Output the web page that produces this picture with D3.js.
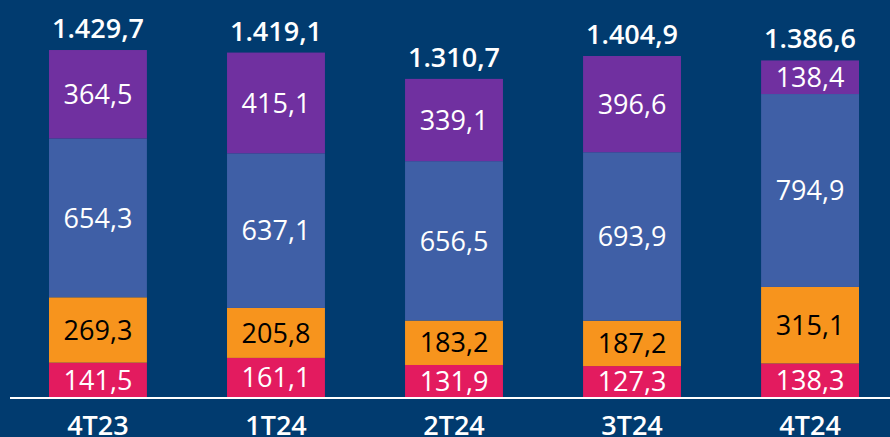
<!DOCTYPE html>
<html lang="pt">
<head>
<meta charset="utf-8">
<script src="https://d3js.org/d3.v7.min.js"></script>
<style>
  html, body { margin: 0; padding: 0; background: #013b6f; }
  svg { display: block; }
</style>
</head>
<body>
<script>
// categorias e séries (de baixo para cima)
var quarters = ["4T23", "1T24", "2T24", "3T24", "4T24"];
var pink   = [141.5, 161.1, 131.9, 127.3, 138.3];
var orange = [269.3, 205.8, 183.2, 187.2, 315.1];
var blue   = [654.3, 637.1, 656.5, 693.9, 794.9];
var purple = [364.5, 415.1, 339.1, 396.6, 138.4];
var totals = [1429.7, 1419.1, 1310.7, 1404.9, 1386.6];

var width = 890, height = 437;

var series = [
  { key: "pink",   values: pink,   fill: "#e31b5f", text: "#ffffff" },
  { key: "orange", values: orange, fill: "#f7941d", text: "#000000" },
  { key: "blue",   values: blue,   fill: "#3f5fa6", text: "#ffffff" },
  { key: "purple", values: purple, fill: "#7030a0", text: "#ffffff" }
];

var rows = quarters.map(function (q, i) {
  var r = { q: q, total: totals[i] };
  series.forEach(function (s) { r[s.key] = s.values[i]; });
  return r;
});

var stack = d3.stack().keys(series.map(function (s) { return s.key; }));
var layers = stack(rows);

var x = d3.scaleBand()
  .domain(quarters)
  .range([49, 859])
  .paddingInner(0.45)
  .paddingOuter(0);

var y = d3.scaleLinear()
  .domain([0, 1429.7])
  .range([397, 50]);

var fmt = function (v) {
  return d3.formatLocale({ decimal: ",", thousands: ".", grouping: [3], currency: ["", ""] })
    .format(",.1f")(v);
};

var svg = d3.select("body").append("svg")
  .attr("width", width)
  .attr("height", height);

svg.append("rect").attr("width", width).attr("height", height).attr("fill", "#013b6f");

var layer = svg.selectAll(".layer")
  .data(layers)
  .enter().append("g")
  .attr("class", "layer");

layer.selectAll("rect")
  .data(function (d, i) { return d.map(function (p) { p.s = series[i]; return p; }); })
  .enter().append("rect")
  .attr("x", function (d) { return x(d.data.q); })
  .attr("y", function (d) { return y(d[1]); })
  .attr("width", x.bandwidth())
  .attr("height", function (d) { return y(d[0]) - y(d[1]); })
  .attr("fill", function (d) { return d.s.fill; });

layer.selectAll("text")
  .data(function (d) { return d; })
  .enter().append("text")
  .attr("x", function (d) { return x(d.data.q) + x.bandwidth() / 2; })
  .attr("y", function (d) { return (y(d[0]) + y(d[1])) / 2; })
  .attr("dy", "0.36em")
  .attr("text-anchor", "middle")
  .attr("font-family", "Open Sans, sans-serif")
  .attr("font-size", 27)
  .attr("fill", function (d) { return d.s.text; })
  .text(function (d) { return fmt(d[1] - d[0]); });

// totais
svg.selectAll(".total")
  .data(rows)
  .enter().append("text")
  .attr("class", "total")
  .attr("x", function (d) { return x(d.q) + x.bandwidth() / 2; })
  .attr("y", function (d) { return y(d.total) - 12; })
  .attr("text-anchor", "middle")
  .attr("font-family", "Open Sans, sans-serif")
  .attr("font-weight", 600)
  .attr("font-size", 27)
  .attr("fill", "#ffffff")
  .text(function (d) { return fmt(d.total); });

// linha de base e eixo
svg.append("line")
  .attr("x1", 10).attr("x2", width)
  .attr("y1", 398).attr("y2", 398)
  .attr("stroke", "#ffffff")
  .attr("stroke-width", 2);

var axis = svg.append("g")
  .attr("transform", "translate(0,398)")
  .call(d3.axisBottom(x).tickSize(0).tickPadding(0));
axis.select(".domain").remove();
axis.selectAll("text")
  .attr("y", 37)
  .attr("dy", 0)
  .attr("font-family", "Open Sans, sans-serif")
  .attr("font-weight", 600)
  .attr("font-size", 27)
  .attr("fill", "#ffffff");
</script>
</body>
</html>
